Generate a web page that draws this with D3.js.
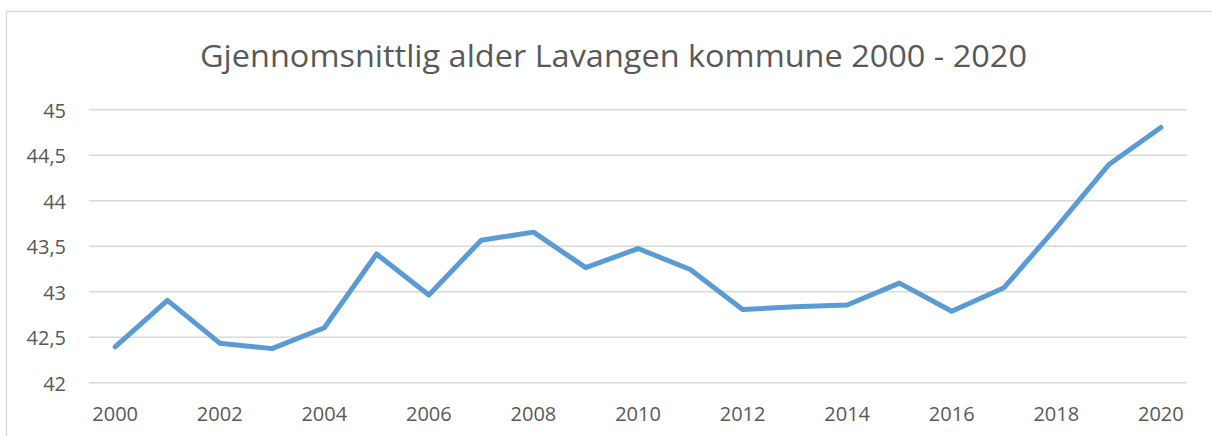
<!DOCTYPE html>
<html>
<head>
<meta charset="utf-8">
<script src="https://cdn.jsdelivr.net/npm/d3@7"></script>
<style>
  html, body { margin: 0; padding: 0; background: #fff; }
  svg { display: block; }
</style>
</head>
<body>
<svg id="chart" width="1212" height="436"></svg>
<script>
const title = "Gjennomsnittlig alder Lavangen kommune 2000 - 2020";
const years = [2000, 2001, 2002, 2003, 2004, 2005, 2006, 2007, 2008, 2009, 2010,
               2011, 2012, 2013, 2014, 2015, 2016, 2017, 2018, 2019, 2020];
const ages = [42.39, 42.90, 42.43, 42.37, 42.60, 43.41, 42.96, 43.56, 43.65, 43.26, 43.47,
              43.24, 42.80, 42.83, 42.85, 43.09, 42.78, 43.04, 43.70, 44.39, 44.80];
const yTicks = [42, 42.5, 43, 43.5, 44, 44.5, 45];
const xTickYears = [2000, 2002, 2004, 2006, 2008, 2010, 2012, 2014, 2016, 2018, 2020];

const svg = d3.select("#chart");
const textColor = "#595959";
const gridColor = "#d9d9d9";

// chart border
svg.append("rect")
  .attr("x", 6.5).attr("y", 11.5)
  .attr("width", 1220).attr("height", 440)
  .attr("fill", "#fff").attr("stroke", gridColor).attr("stroke-width", 1.3);

const x = d3.scaleBand().domain(years).range([89, 1187]).padding(0);
const y = d3.scaleLinear().domain([42, 45]).range([382.3, 109.3]);
const cx = d => x(d) + x.bandwidth() / 2;

// title
svg.append("text")
  .attr("x", 613.5).attr("y", 66.5)
  .attr("text-anchor", "middle")
  .attr("font-family", "'Open Sans', sans-serif")
  .attr("font-size", 31)
  .attr("fill", textColor)
  .attr("textLength", 827)
  .attr("lengthAdjust", "spacingAndGlyphs")
  .text(title);

// y axis (gridlines + labels)
const yAxis = d3.axisLeft(y)
  .tickValues(yTicks)
  .tickSize(-(1187 - 89))
  .tickPadding(23)
  .tickFormat(d => d3.format("")(d).replace(".", ","));
const gy = svg.append("g").attr("transform", "translate(89,0)").call(yAxis);
gy.select(".domain").remove();
gy.selectAll(".tick line").attr("stroke", gridColor).attr("stroke-width", 1.5);
gy.selectAll(".tick text")
  .attr("font-family", "'Open Sans', sans-serif")
  .attr("font-size", 20)
  .attr("fill", textColor)
  .attr("dy", "0.4em");

// x axis labels
const xAxis = d3.axisBottom(x)
  .tickValues(xTickYears)
  .tickSize(0)
  .tickPadding(0)
  .tickFormat(d3.format("d"));
const gx = svg.append("g").attr("transform", "translate(0,382.3)").call(xAxis);
gx.select(".domain").remove();
gx.selectAll(".tick text")
  .attr("font-family", "'Open Sans', sans-serif")
  .attr("font-size", 20)
  .attr("fill", textColor)
  .attr("dy", null)
  .attr("y", 38.5);

// line
const line = d3.line()
  .x((d, i) => cx(years[i]))
  .y(d => y(d));
svg.append("path")
  .datum(ages)
  .attr("d", line)
  .attr("fill", "none")
  .attr("stroke", "#5b9bd5")
  .attr("stroke-width", 5)
  .attr("stroke-linejoin", "round")
  .attr("stroke-linecap", "round");
</script>
</body>
</html>
